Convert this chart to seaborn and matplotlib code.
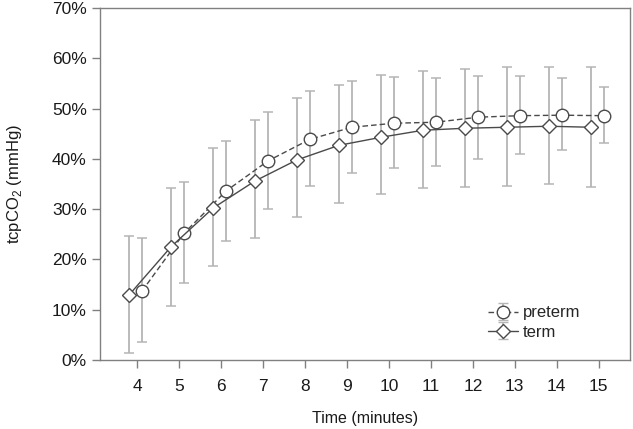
import numpy as np
import pandas as pd
import matplotlib
matplotlib.use("Agg")
import matplotlib.pyplot as plt
from matplotlib.ticker import PercentFormatter
import seaborn as sns

# minutes on the x axis
minutes = [4, 5, 6, 7, 8, 9, 10, 11, 12, 13, 14, 15]

# preterm: mean and error bar ends (%)
preterm_mean = [13.7, 25.2, 33.6, 39.6, 43.9, 46.3, 47.1, 47.3, 48.3, 48.6, 48.7, 48.6]
preterm_low = [3.6, 15.3, 23.7, 30.0, 34.6, 37.2, 38.2, 38.6, 40.0, 41.0, 41.7, 43.1]
preterm_high = [24.2, 35.4, 43.5, 49.3, 53.5, 55.5, 56.3, 56.1, 56.5, 56.5, 56.1, 54.3]

# term: mean and error bar ends (%)
term_mean = [12.9, 22.5, 30.2, 35.6, 39.8, 42.7, 44.3, 45.7, 46.1, 46.3, 46.5, 46.3]
term_low = [1.4, 10.7, 18.7, 24.3, 28.4, 31.2, 33.0, 34.2, 34.4, 34.6, 35.0, 34.4]
term_high = [24.6, 34.2, 42.1, 47.7, 52.1, 54.7, 56.7, 57.5, 57.9, 58.3, 58.3, 58.3]

sns.set_style("ticks")
plt.rcParams["font.family"] = ["Liberation Sans", "DejaVu Sans"]

groups = {
    "preterm": (preterm_mean, preterm_low, preterm_high, 0.12, "o", (4, 2.2), 9),
    "term": (term_mean, term_low, term_high, -0.19, "D", "", 7),
}

fig, ax = plt.subplots(figsize=(6.33, 4.29), dpi=100)
fig.subplots_adjust(left=0.158, right=0.995, bottom=0.161, top=0.981)

line_col = "#4a4a4a"
err_col = "#b5b5b5"
handles = []
for name, (mean, low, high, shift, marker, dash, msize) in groups.items():
    df = pd.DataFrame({"minute": np.array(minutes) + shift, "value": mean,
                       "low": low, "high": high})
    ax.errorbar(df["minute"], df["value"],
                yerr=[df["value"] - df["low"], df["high"] - df["value"]],
                fmt="none", ecolor=err_col, elinewidth=1.3, capsize=3.5,
                capthick=1.1, zorder=1)
    sns.lineplot(data=df, x="minute", y="value", ax=ax, color=line_col,
                 linewidth=1.0, marker=marker, markersize=msize,
                 markerfacecolor="white", markeredgecolor=line_col,
                 markeredgewidth=1.0, zorder=3, legend=False)
    if dash:
        ax.lines[-1].set_dashes(dash)
    h = ax.errorbar([np.nan], [np.nan], yerr=[[1], [1]], fmt="-", marker=marker,
                    color=line_col, markersize=msize, markerfacecolor="white",
                    markeredgecolor=line_col, markeredgewidth=1.0, linewidth=1.0,
                    ecolor=err_col, elinewidth=1.3, capsize=3.5, label=name,
                    dashes=dash if dash else (None, None))
    handles.append(h)

ax.set_xlim(3.12, 15.74)
ax.set_ylim(0, 70)
ax.set_xticks(minutes)
ax.set_yticks(range(0, 71, 10))
ax.yaxis.set_major_formatter(PercentFormatter(decimals=0))

for s in ax.spines.values():
    s.set_color("#808080")
    s.set_linewidth(1.0)
ax.tick_params(axis="both", colors="#808080", labelcolor="#1a1a1a",
               labelsize=12.5, length=6, width=1.0)
ax.tick_params(axis="x", pad=8)

ax.set_xlabel("Time (minutes)", fontsize=11.5, color="#1a1a1a", labelpad=12)
ax.set_ylabel(r"tcpCO$_\mathregular{2}$ (mmHg)", fontsize=12, color="#1a1a1a",
              labelpad=20)

ax.legend(handles=handles, labels=list(groups.keys()), loc="lower left",
          bbox_to_anchor=(0.704, 0.015), frameon=False, fontsize=12,
          handlelength=1.8, handletextpad=0.3, labelspacing=0.25)

fig.savefig("out.png", dpi=100)
